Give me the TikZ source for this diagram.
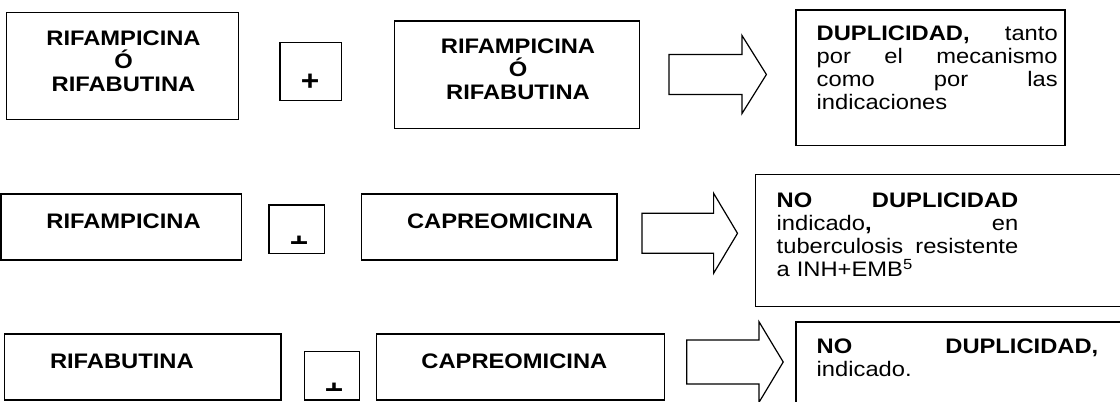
\documentclass[tikz,border=0pt]{standalone}
\usepackage{fontspec}
\setmainfont{Liberation Sans}[FakeStretch=1.13]
\usetikzlibrary{fit}
\newcommand\blockarrowdraw[6]{% left, base, tip, cy, shaft half, head half
  \draw[arrowshape] (#1,#4-#5) -- (#2,#4-#5) -- (#2,#4-#6) -- (#3,#4) -- (#2,#4+#6) -- (#2,#4+#5) -- (#1,#4+#5) -- cycle;}
\tikzset{
  box/.style={draw=black, line width=0.9pt, inner sep=0pt, outer sep=0pt},
  arrowshape/.style={draw=black, line width=0.9pt, line join=miter, fill=white},
  txt/.style={inner sep=0pt, outer sep=0pt, font=\fontsize{15.75pt}{17.25pt}\selectfont},
  btxt/.style={inner sep=0pt, outer sep=0pt, font=\fontsize{15.75pt}{17.25pt}\selectfont\bfseries},
  plussign/.style={inner sep=0pt, outer sep=0pt, font=\fontsize{21pt}{24pt}\selectfont\bfseries},
}
\begin{document}
\begin{tikzpicture}[x=0.75pt,y=-0.75pt]
\useasboundingbox (0,0) rectangle (1120,401);
\fill[white] (0,0) rectangle (1120,401);
\clip (0,0) rectangle (1120,401);

% ---- row 1
\node[box, fit={(6.4,12.7) (238.6,119.3)}] (a1) {};
\node[box, fit={(280,42.7) (341.7,100.7)}] (p1) {};
\node[box, fit={(394.3,21) (639.3,128.3)}] (a2) {};
\node[box, fit={(796,10) (1065,145.7)}] (r1) {};
\node[btxt, anchor=north, align=center] (a1t) at (123.5,25.5) {\rule{0pt}{15pt}RIFAMPICINA\\Ó\\RIFABUTINA};
\node[plussign] (p1t) at (310,82.5) {+};
\node[btxt, anchor=north, align=center] (a2t) at (518,33.5) {\rule{0pt}{15pt}RIFAMPICINA\\Ó\\RIFABUTINA};
\blockarrowdraw{669}{742}{766.4}{74.5}{20}{39}
\node[txt, anchor=north west, text width=180.75pt, align=left] (r1t) at (816.7,20)
  {\rule{0pt}{15pt}\textbf{DUPLICIDAD,}\hfill tanto\\por\hfill el\hfill mecanismo\\como\hfill por\hfill las\\indicaciones};

% ---- row 2
\node[box, fit={(1.1,194) (241.8,260)}] (b1) {};
\node[box, fit={(269,205) (324.5,253.5)}] (p2) {};
\node[box, fit={(361.4,194) (617,260)}] (b2) {};
\node[box, fit={(755.7,174.3) (1140,306.5)}] (r2) {};
\node[btxt, anchor=base west] (b1t) at (46.4,228.3) {RIFAMPICINA};
\begin{scope}
  \clip (269,200) rectangle (324.5,243.2);
  \node[plussign] (p2t) at (299,243.8) {+};
\end{scope}
\node[btxt, anchor=base west] (b2t) at (407,228.3) {CAPREOMICINA};
\blockarrowdraw{642}{713.6}{737.5}{233.3}{20}{40}
\node[txt, anchor=north west, text width=181.2pt, align=left] (r2t) at (776.7,187.7)
  {\rule{0pt}{15pt}\textbf{NO}\hfill\textbf{DUPLICIDAD}\\indicado\textbf{,}\hfill en\\tuberculosis\hfill resistente\\a INH+EMB\textsuperscript{5}};

% ---- row 3
\node[box, fit={(4.3,334) (281,400)}] (c1) {};
\node[box, fit={(304.3,351.7) (359.5,400)}] (p3) {};
\node[box, fit={(376.8,334) (664.6,400)}] (c2) {};
\node[box, fit={(796,322) (1140,430)}] (r3) {};
\node[btxt, anchor=base west] (c1t) at (50,368.3) {RIFABUTINA};
\begin{scope}
  \clip (304.3,345) rectangle (359.5,390);
  \node[plussign] (p3t) at (334,390.8) {+};
\end{scope}
\node[btxt, anchor=base west] (c2t) at (421.4,368.3) {CAPREOMICINA};
\blockarrowdraw{686.8}{759}{783.2}{362}{22}{40.3}
\node[txt, anchor=north west, text width=211.2pt, align=left] (r3t) at (816.7,333.3)
  {\rule{0pt}{15pt}\textbf{NO}\hfill\textbf{DUPLICIDAD,}\\indicado.};
\end{tikzpicture}
\end{document}
